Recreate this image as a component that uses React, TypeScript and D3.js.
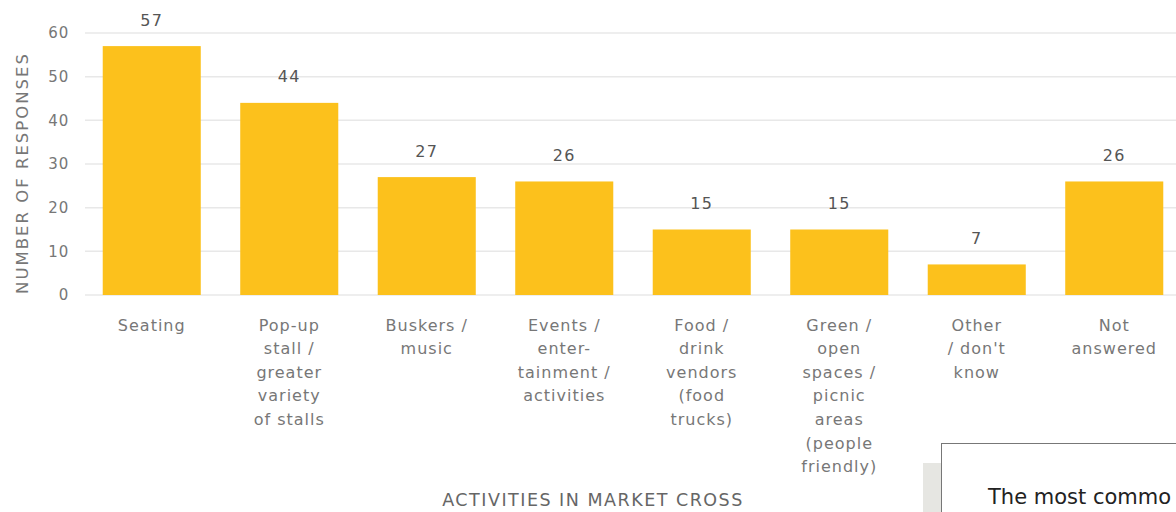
import React from "react";
import * as d3 from "d3";

const categories = [
  ["Seating"],
  ["Pop-up", "stall /", "greater", "variety", "of stalls"],
  ["Buskers /", "music"],
  ["Events /", "enter-", "tainment /", "activities"],
  ["Food /", "drink", "vendors", "(food", "trucks)"],
  ["Green /", "open", "spaces /", "picnic", "areas", "(people", "friendly)"],
  ["Other", "/ don't", "know"],
  ["Not", "answered"],
];
const values = [57, 44, 27, 26, 15, 15, 7, 26];
const yTicks = [0, 10, 20, 30, 40, 50, 60];

const W = 1176;
const H = 512;
const FONT = "'DejaVu Sans', Verdana, sans-serif";

export default function App() {
  const x = d3
    .scaleBand<number>()
    .domain(d3.range(values.length))
    .range([83, 1183])
    .paddingInner(0.287)
    .paddingOuter(0.1435);
  const y = d3.scaleLinear().domain([0, 60]).range([295, 33]);

  return (
    <svg
      width={W}
      height={H}
      style={{ position: "absolute", left: 0, top: 0, background: "#fff" }}
      fontFamily={FONT}
    >
      {yTicks.map((t) => (
        <g key={t}>
          <line x1={85} x2={W} y1={y(t)} y2={y(t)} stroke="#e8e8e8" strokeWidth={1.5} />
          <text x={69} y={y(t)} dy="0.35em" textAnchor="end" fontSize={15} letterSpacing={0.8} fill="#777">
            {t}
          </text>
        </g>
      ))}
      <text
        transform={`translate(22,${173}) rotate(-90)`}
        textAnchor="middle"
        dy="0.35em"
        fontSize={16.5}
        letterSpacing={2}
        fill="#777"
      >
        NUMBER OF RESPONSES
      </text>
      {values.map((v, i) => (
        <g key={i}>
          <rect
            x={x(i)}
            y={y(v)}
            width={x.bandwidth()}
            height={y(0) - y(v)}
            fill="#FCC11C"
          />
          <text
            x={(x(i) as number) + x.bandwidth() / 2}
            y={y(v) - 26}
            dy="0.35em"
            textAnchor="middle"
            fontSize={16}
            letterSpacing={1.2}
            fill="#555"
          >
            {v}
          </text>
          {categories[i].map((line, j) => (
            <text
              key={j}
              x={(x(i) as number) + x.bandwidth() / 2}
              y={325 + j * 23.6}
              dy="0.35em"
              textAnchor="middle"
              fontSize={16}
              letterSpacing={1}
              fill="#777"
            >
              {line}
            </text>
          ))}
        </g>
      ))}
      <text x={593} y={500} dy="0.35em" textAnchor="middle" fontSize={17.5} letterSpacing={1.5} fill="#666">
        ACTIVITIES IN MARKET CROSS
      </text>
      <rect x={923} y={463} width={20} height={60} fill="#e6e6e2" />
      <rect x={941.5} y={443.5} width={260} height={100} fill="#fff" stroke="#777" strokeWidth={1} />
      <text x={988} y={504} fontSize={21} fill="#222">
        The most commo
      </text>
    </svg>
  );
}
